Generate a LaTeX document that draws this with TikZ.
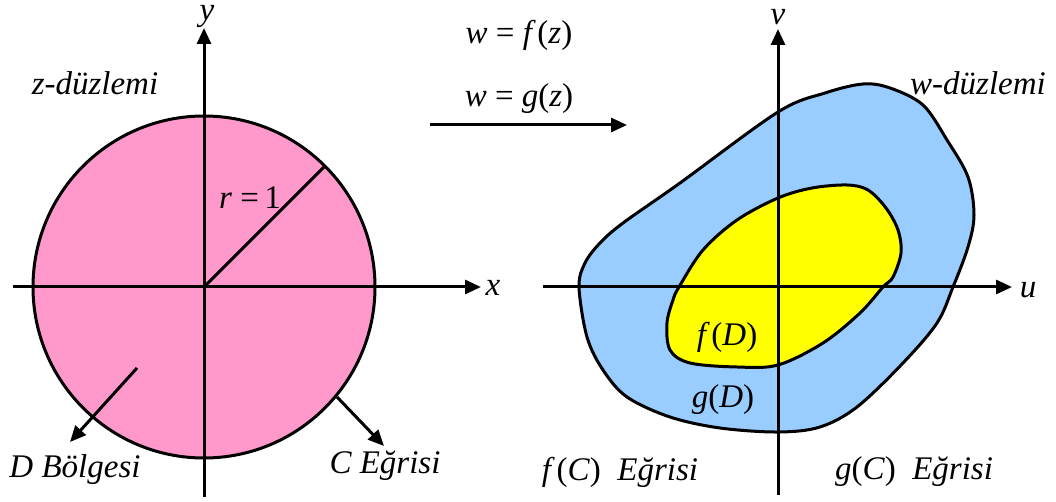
\documentclass[tikz,border=0pt]{standalone}
\usepackage{fontspec}
\setmainfont{Liberation Serif}
\usetikzlibrary{arrows.meta}
\definecolor{pembe}{RGB}{255,153,204}
\definecolor{mavi}{RGB}{153,204,255}
\definecolor{sari}{RGB}{255,255,0}

\begin{document}
\begin{tikzpicture}[x=0.5pt,y=-0.5pt,line width=1.5pt,
  ok/.style={-{Triangle[length=8pt,width=7pt]}},
  etiket/.style={font=\fontsize{16.5}{19}\selectfont\itshape,inner sep=0pt}]
\useasboundingbox (0,0) rectangle (1056,502);

% z-duzlemi
\coordinate (o1) at (204,287);
\coordinate (x0) at (13,287);
\coordinate (x1) at (481,287);
\coordinate (y0) at (204,497);
\coordinate (y1) at (204,28);
\coordinate (r1) at (325,166);
\fill[pembe] (o1) circle[radius=171];
\draw (o1) circle[radius=171];
\draw[ok] (x0) -- (x1);
\draw[ok] (y0) -- (y1);
\draw (o1) -- (r1);
\node[etiket] (xl) at (493,288) {x};
\node[etiket] (yl) at (207,16) {y};
\node[etiket] (zd) at (95,83) {z-düzlemi};
\node[etiket] (r) at (250,198) {r \textup{=\,1}};

\coordinate (d0) at (137,368);
\coordinate (d1) at (70,442);
\coordinate (c0) at (337,397);
\coordinate (c1) at (384,446);
\draw[ok] (d0) -- (d1);
\draw[ok] (c0) -- (c1);
\node[etiket] (db) at (75,470) {D Bölgesi};
\node[etiket] (ce) at (385,466) {C Eğrisi};

% donusum
\node[etiket] (wf) at (519,35) {w \textup{=} f\,\textup{(}z\textup{)}};
\node[etiket] (wg) at (519,99) {w \textup{=} g\textup{(}z\textup{)}};
\coordinate (m0) at (430,125);
\coordinate (m1) at (627,125);
\draw[ok] (m0) -- (m1);

% w-duzlemi
\coordinate (o2) at (778,287);
\coordinate (u0) at (543,287);
\coordinate (u1) at (1012,287);
\coordinate (v0) at (778,495);
\coordinate (v1) at (778,29);
\draw[fill=mavi] plot[smooth cycle,tension=0.55] coordinates {
  (579,287) (587,337) (603,370) (627,397) (670,417) (720,428) (778,432)
  (820,427) (857,407) (903,363) (937,323) (953,287) (968,247) (974,215)
  (968,177) (947,140) (923,105) (890,88) (863,84) (825,93) (778,112)
  (680,183) (623,223) (600,243) (585,263)};
\draw[fill=sari] plot[smooth cycle,tension=0.55] coordinates {
  (847,185) (868,190) (886,208) (898,230) (901,253) (893,277) (883,287)
  (860,313) (823,343) (778,365) (737,367) (690,363) (670,350) (667,323)
  (673,300) (679,287) (703,250) (737,220) (778,198) (812,188)};
\draw[ok] (u0) -- (u1);
\draw[ok] (v0) -- (v1);
\node[etiket] (ul) at (1028,290) {u};
\node[etiket] (vl) at (778,17) {v};
\node[etiket] (wd) at (978,83) {w-düzlemi};
\node[etiket] (fd) at (727,337) {f\,\textup{(}D\textup{)}};
\node[etiket] (gd) at (723,400) {g\textup{(}D\textup{)}};
\node[etiket] (fc) at (620,472) {f\,\textup{(}C\textup{)}\ \ Eğrisi};
\node[etiket] (gc) at (914,472) {g\textup{(}C\textup{)}\ \ Eğrisi};
\end{tikzpicture}
\end{document}
